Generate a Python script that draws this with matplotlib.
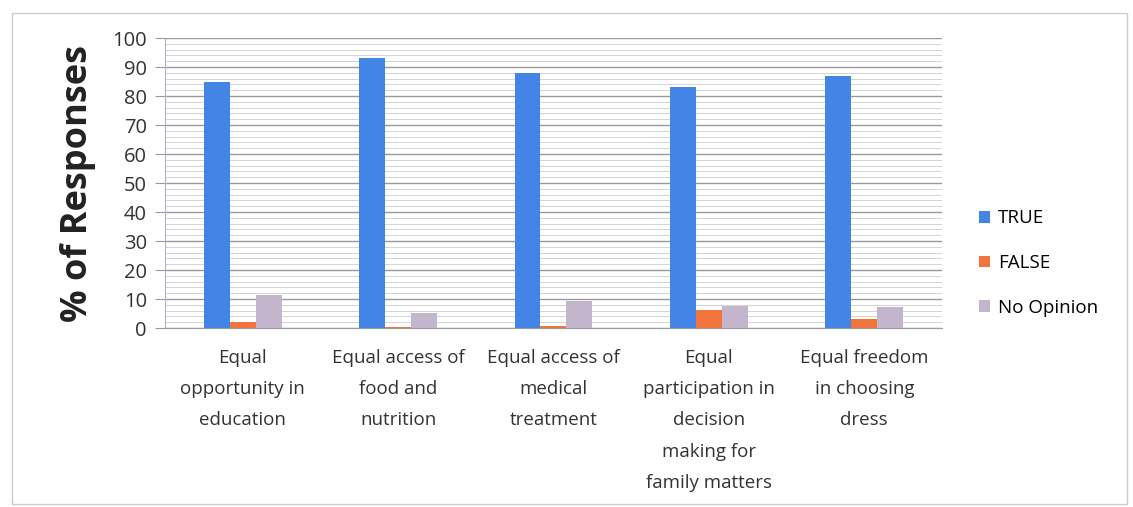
import matplotlib.pyplot as plt
from matplotlib.patches import Rectangle
import numpy as np

# Data
categories = ["Equal\nopportunity in\neducation",
              "Equal access of\nfood and\nnutrition",
              "Equal access of\nmedical\ntreatment",
              "Equal\nparticipation in\ndecision\nmaking for\nfamily matters",
              "Equal freedom\nin choosing\ndress"]
true_vals = [85, 93, 88, 83, 87]
false_vals = [2.2, 0.5, 0.8, 6.2, 3.0]
noop_vals = [11.5, 5.3, 9.3, 7.7, 7.1]

series = ["TRUE", "FALSE", "No Opinion"]
colors = ["#4285e6", "#f0743c", "#c3b6cc"]

plt.rcParams['font.family'] = ['Open Sans', 'DejaVu Sans']

fig = plt.figure(figsize=(11.33, 5.07), dpi=100)
ax = fig.add_axes([0.1456, 0.353, 0.6858, 0.572])

x = np.arange(len(categories))
w = 0.167
for i, (vals, lab) in enumerate(zip([true_vals, false_vals, noop_vals], series)):
    ax.bar(x + (i - 1) * w, vals, width=w, color=colors[i], label=lab, zorder=3)

ax.set_xlim(-0.5, len(categories) - 0.5)
ax.set_ylim(0, 100)
ax.set_yticks(range(0, 101, 10))
ax.set_yticks(range(0, 101, 2), minor=True)
ax.grid(axis='y', which='major', color='#9a9a9a', linewidth=1.0, zorder=0)
ax.grid(axis='y', which='minor', color='#d4d4d4', linewidth=0.7, zorder=0)

ax.set_xticks(x)
ax.set_xticklabels(categories, fontsize=13.5, color='#333333', linespacing=1.95, va='top')
ax.tick_params(axis='x', length=0, pad=15)
ax.tick_params(axis='y', which='major', length=7, color='#9a9a9a', labelsize=14.5, labelcolor='#333333', pad=6)
ax.tick_params(axis='y', which='minor', length=0)

for s in ['top', 'right']:
    ax.spines[s].set_visible(False)
ax.spines['left'].set_color('#b7a9c9')
ax.spines['bottom'].set_color('#9a9a9a')

ax.set_ylabel("% of Responses", fontsize=26, fontweight='bold', color='#222222', labelpad=12)

ax.legend(loc='center left', bbox_to_anchor=(1.026, 0.224), frameon=False, fontsize=13.5,
          handlelength=0.6, handleheight=0.6, handletextpad=0.4, labelspacing=1.43)

# light frame around the chart area
fig.patches.append(Rectangle((12 / 1133, 0.005), 1115 / 1133, 0.97, transform=fig.transFigure,
                             fill=False, edgecolor='#cccccc', linewidth=1))

fig.savefig("out.png", dpi=100)
